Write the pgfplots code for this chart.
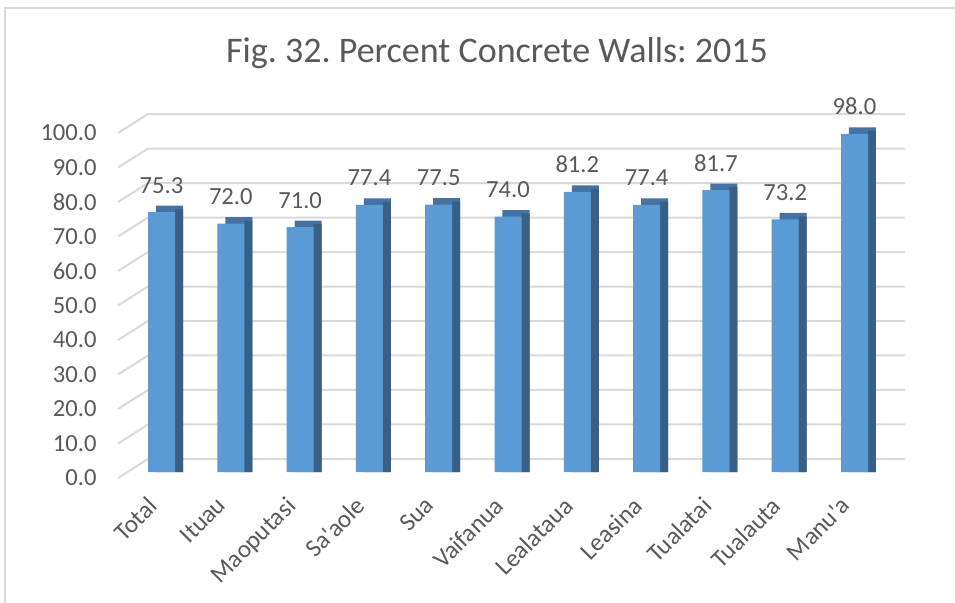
\documentclass[border=0pt]{standalone}
\usepackage{pgfplots}
\pgfplotsset{compat=1.18}
\usepackage{pgfplotstable}
\usepackage{fontspec}
\setmainfont{Carlito}
\frenchspacing
\definecolor{frontc}{HTML}{5B9BD5}
\definecolor{topc}{HTML}{4472A3}
\definecolor{sidec}{HTML}{395F86}
\definecolor{gridc}{HTML}{D9D9D9}
\definecolor{textc}{HTML}{595959}
\pgfplotstableread{
x val
0 75.3
1 72.0
2 71.0
3 77.4
4 77.5
5 74.0
6 81.2
7 77.4
8 81.7
9 73.2
10 98.0
}\datatable
\begin{document}
\begin{tikzpicture}
\useasboundingbox (0,0) rectangle (477.5pt,301pt);
\draw[gridc, line width=1pt] (2.5pt,-5pt) -- (2.5pt,297pt) -- (482pt,297pt);
\node[anchor=base, text=textc, font=\fontsize{18}{21}\selectfont] at (248.5pt,270pt) {Fig. 32. Percent Concrete Walls: 2015};
\begin{axis}[
  at={(59pt,62pt)}, anchor=south west,
  scale only axis, width=393.55pt, height=182pt,
  xmin=-0.628, xmax=10.73, ymin=-1.74, ymax=103.77,
  clip=false,
  axis line style={draw=none},
  major tick length=0pt,
  /pgf/number format/assume math mode=true,
  ytick={-1.74,8.26,18.26,28.26,38.26,48.26,58.26,68.26,78.26,88.26,98.26},
  yticklabels={0.0,10.0,20.0,30.0,40.0,50.0,60.0,70.0,80.0,90.0,100.0},
  yticklabel style={anchor=east, inner sep=0pt, xshift=-10.5pt, text=textc, font=\fontsize{12.3}{14}\selectfont},
  xtick={0,1,2,3,4,5,6,7,8,9,10},
  xticklabels={Total,Ituau,Maoputasi,Sa\textquotesingle aole,Sua,Vaifanua,Lealataua,Leasina,Tualatai,Tualauta,Manu\textquotesingle a},
  xticklabel style={xshift=-7.5pt, yshift=-8.5pt, rotate=45, anchor=north east, inner sep=0pt, text=textc, font=\fontsize{12.5}{14}\selectfont},
]
\pgfplotsinvokeforeach{0,10,20,30,40,50,60,70,80,90,100}{
  \draw[gridc, line width=1pt] (axis cs:-0.628,{#1-1.74}) -- (axis cs:-0.195,{#1+3.77}) -- (axis cs:10.73,{#1+3.77});
}
\addplot[ybar, bar width=0.39, bar shift=0.115, fill=topc, draw=none]
  table[x=x, y expr=\thisrow{val}+1.9] {\datatable};
\addplot[ybar, bar width=0.115, bar shift=0.2525, fill=sidec, draw=none]
  table[x=x, y expr=\thisrow{val}+0.9] {\datatable};
\addplot[ybar, bar width=0.39, bar shift=0, fill=frontc, draw=none,
  nodes near coords, point meta=y,
  every node near coord/.append style={anchor=base, yshift=9.5pt, text=textc, font=\fontsize{12.3}{14}\selectfont,
    /pgf/number format/fixed, /pgf/number format/precision=1, /pgf/number format/fixed zerofill}]
  table[x=x, y=val] {\datatable};
\end{axis}
\end{tikzpicture}
\end{document}
